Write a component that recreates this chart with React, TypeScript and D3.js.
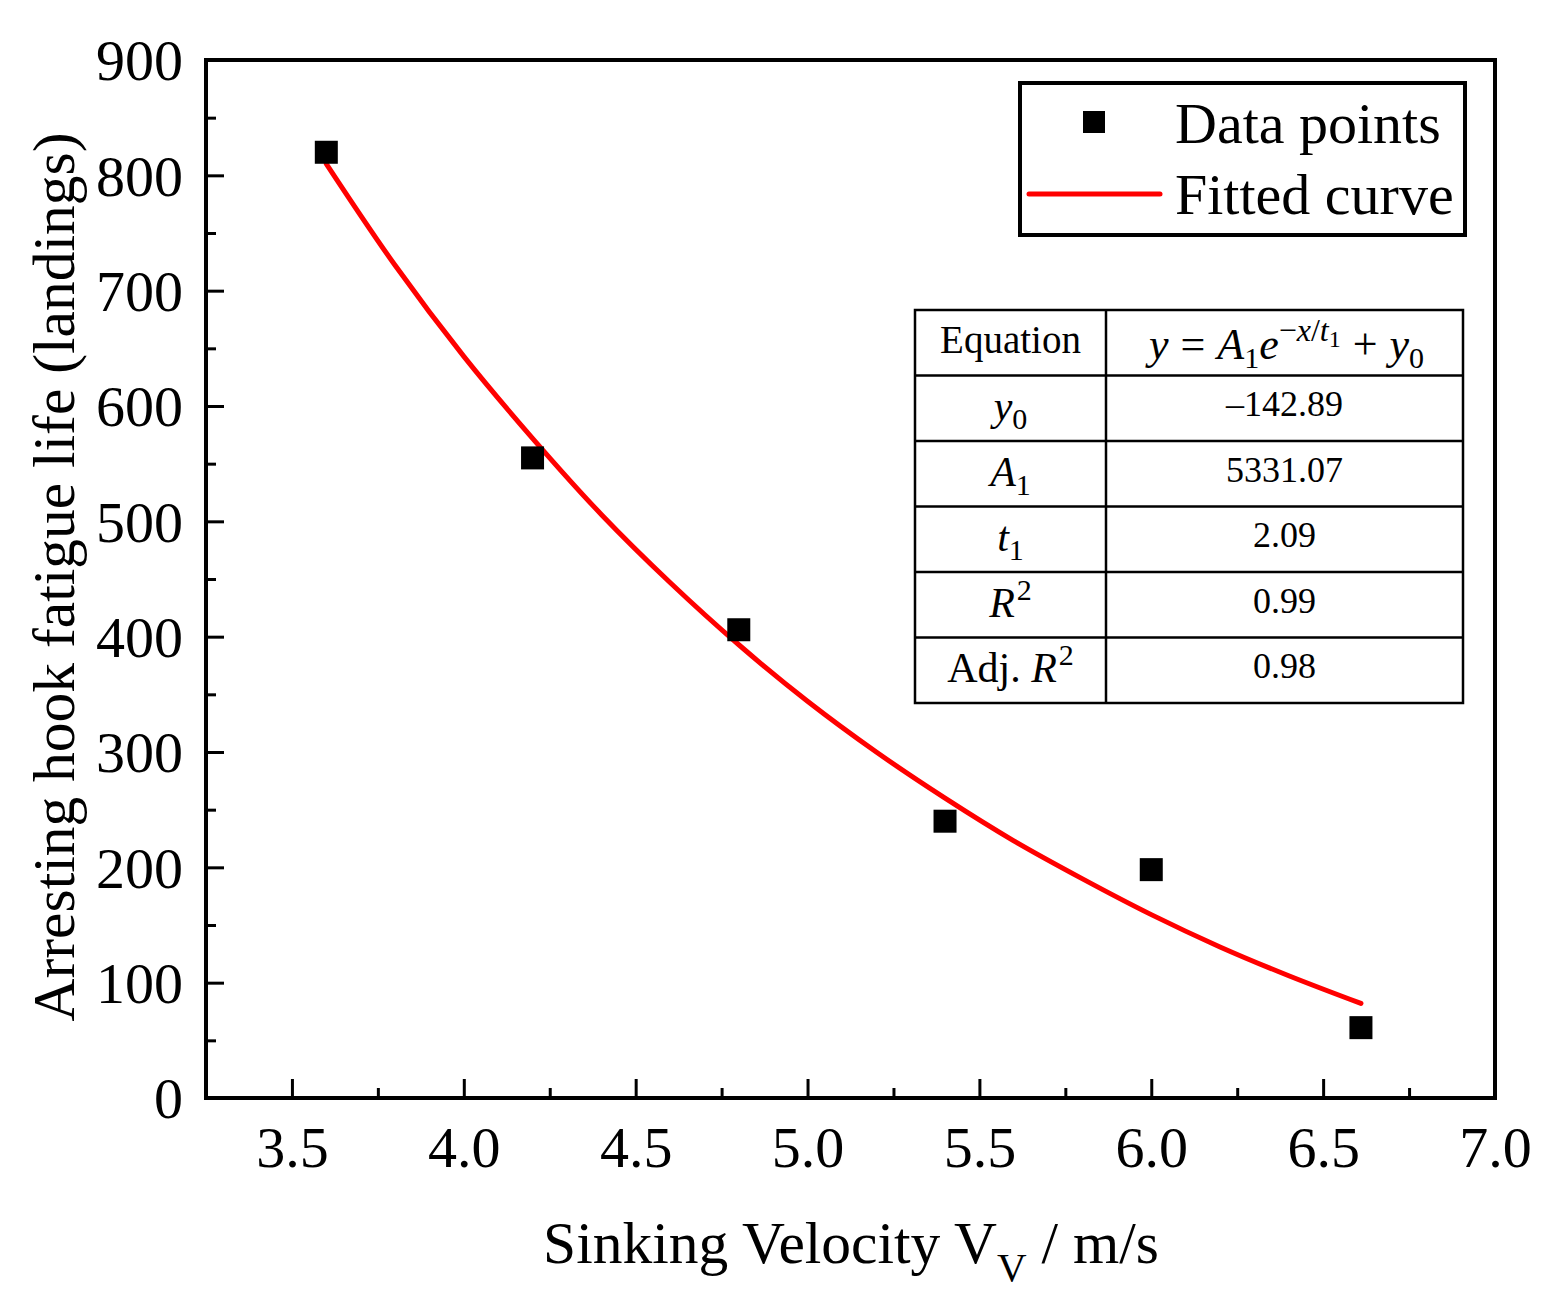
import { useEffect, useRef } from 'react';
import * as d3 from 'd3';

// measured points
const velocity = [3.6, 4.2, 4.8, 5.4, 6.0, 6.61];
const fatigueLife = [820, 555, 406, 240, 198, 61];

// fitted curve
const fitX = [3.6, 3.8, 4.0, 4.2, 4.4, 4.6, 4.8, 5.0, 5.2, 5.4, 5.6, 5.8, 6.0, 6.2, 6.4, 6.61];
const fitY = [810, 722, 643, 572, 506, 447, 393, 344, 300, 260, 223, 190, 159, 131, 106, 82];

const xTicks = [3.5, 4.0, 4.5, 5.0, 5.5, 6.0, 6.5, 7.0];
const xMinor = [3.75, 4.25, 4.75, 5.25, 5.75, 6.25, 6.75];
const yTicks = [0, 100, 200, 300, 400, 500, 600, 700, 800, 900];
const yMinor = [50, 150, 250, 350, 450, 550, 650, 750, 850];

const paramValues = ['–142.89', '5331.07', '2.09', '0.99', '0.98'];

const W = 1560;
const H = 1310;
const margin = { left: 206, right: 65, top: 60, bottom: 212 };
const FONT = '"Liberation Serif", "Times New Roman", serif';

export default function App() {
  const xAxisRef = useRef<SVGGElement>(null);
  const yAxisRef = useRef<SVGGElement>(null);

  const x = d3.scaleLinear().domain([3.25, 7.0]).range([margin.left, W - margin.right]);
  const y = d3.scaleLinear().domain([0, 900]).range([H - margin.bottom, margin.top]);

  useEffect(() => {
    const gx = d3.select(xAxisRef.current!);
    gx.selectAll('*').remove();
    gx.append('g')
      .call(d3.axisBottom(x).tickValues(xMinor).tickSize(-10).tickFormat(() => ''))
      .call(s => s.select('.domain').remove())
      .call(s => s.selectAll('line').attr('stroke', '#000').attr('stroke-width', 3));
    gx.append('g')
      .call(d3.axisBottom(x).tickValues(xTicks).tickSize(-19).tickFormat(d3.format('.1f')))
      .call(s => s.select('.domain').remove())
      .call(s => s.selectAll('line').attr('stroke', '#000').attr('stroke-width', 3))
      .call(s => s.selectAll('text').attr('y', 69).attr('dy', 0)
        .attr('fill', '#000').attr('font-size', 58).attr('font-family', FONT));

    const gy = d3.select(yAxisRef.current!);
    gy.selectAll('*').remove();
    gy.append('g')
      .call(d3.axisLeft(y).tickValues(yMinor).tickSize(-10).tickFormat(() => ''))
      .call(s => s.select('.domain').remove())
      .call(s => s.selectAll('line').attr('stroke', '#000').attr('stroke-width', 3));
    gy.append('g')
      .call(d3.axisLeft(y).tickValues(yTicks).tickSize(-18).tickFormat(d3.format('d')))
      .call(s => s.select('.domain').remove())
      .call(s => s.selectAll('line').attr('stroke', '#000').attr('stroke-width', 3))
      .call(s => s.selectAll('text').attr('x', -23).attr('dy', '0.34em')
        .attr('fill', '#000').attr('font-size', 58).attr('font-family', FONT));
  }, []);

  const fitLine = d3.line<number>()
    .x((_, i) => x(fitX[i]))
    .y(d => y(d))
    .curve(d3.curveCatmullRom);

  const marker = 23;

  // table geometry
  const tL = 915, tM = 1106, tR = 1463, tTop = 310, rowH = 65.5;
  const rows = 6;
  const cL = (tL + tM) / 2;
  const cR = (tM + tR) / 2;
  const rowBase = (i: number) => tTop + rowH * i + rowH / 2 + 12;
  const mathFont = { fontFamily: FONT, fontStyle: 'italic' as const };

  const leftLabels = [
    <>
      <tspan {...mathFont}>y</tspan>
      <tspan dy={9} fontSize={30}>0</tspan>
    </>,
    <>
      <tspan {...mathFont}>A</tspan>
      <tspan dy={9} fontSize={30}>1</tspan>
    </>,
    <>
      <tspan {...mathFont}>t</tspan>
      <tspan dy={9} fontSize={30}>1</tspan>
    </>,
    <>
      <tspan {...mathFont}>R</tspan>
      <tspan dx={2} dy={-17} fontSize={30}>2</tspan>
    </>,
    <>
      <tspan>Adj. </tspan>
      <tspan {...mathFont}>R</tspan>
      <tspan dx={2} dy={-17} fontSize={30}>2</tspan>
    </>,
  ];

  return (
    <div style={{ position: 'absolute', left: 0, top: 0 }}>
      <svg width={W} height={H} style={{ display: 'block', background: '#fff' }} fontFamily={FONT}>
        <g ref={xAxisRef} transform={`translate(0,${H - margin.bottom})`} />
        <g ref={yAxisRef} transform={`translate(${margin.left},0)`} />

        {/* fitted curve */}
        <path d={fitLine(fitY) ?? ''} fill="none" stroke="#ff0000" strokeWidth={5} strokeLinecap="round" />

        {/* data points */}
        {velocity.map((v, i) => (
          <rect key={i} x={x(v) - marker / 2} y={y(fatigueLife[i]) - marker / 2}
            width={marker} height={marker} fill="#000" />
        ))}

        {/* frame */}
        <rect x={margin.left} y={margin.top} width={W - margin.left - margin.right}
          height={H - margin.top - margin.bottom} fill="none" stroke="#000" strokeWidth={4} />

        {/* legend */}
        <rect x={1020} y={83} width={445} height={152} fill="#fff" stroke="#000" strokeWidth={4} />
        <rect x={1094 - 11} y={122 - 11} width={22} height={22} fill="#000" />
        <line x1={1029} x2={1160} y1={194} y2={194} stroke="#ff0000" strokeWidth={5} strokeLinecap="round" />
        <text x={1175} y={143} fontSize={58}>Data points</text>
        <text x={1175} y={214} fontSize={58}>Fitted curve</text>

        {/* parameter table */}
        <rect x={tL} y={tTop} width={tR - tL} height={rowH * rows} fill="#fff" stroke="#000" strokeWidth={2.5} />
        <line x1={tM} x2={tM} y1={tTop} y2={tTop + rowH * rows} stroke="#000" strokeWidth={2.5} />
        {d3.range(1, rows).map(i => (
          <line key={i} x1={tL} x2={tR} y1={tTop + rowH * i} y2={tTop + rowH * i} stroke="#000" strokeWidth={2.5} />
        ))}
        <text x={cL} y={rowBase(0) - 2} fontSize={39} textAnchor="middle">Equation</text>
        <text x={cR + 2} y={rowBase(0) + 4} fontSize={44} textAnchor="middle">
          <tspan {...mathFont}>y</tspan>
          <tspan dx={12}>=</tspan>
          <tspan dx={12} {...mathFont}>A</tspan>
          <tspan dy={9} fontSize={30}>1</tspan>
          <tspan dy={-9} {...mathFont}>e</tspan>
          <tspan dy={-18} fontSize={32}>−</tspan>
          <tspan fontSize={32} {...mathFont}>x</tspan>
          <tspan fontSize={32}>/</tspan>
          <tspan fontSize={32} {...mathFont}>t</tspan>
          <tspan dy={6} fontSize={24}>1</tspan>
          <tspan dx={12} dy={12}>+</tspan>
          <tspan dx={12} {...mathFont}>y</tspan>
          <tspan dy={9} fontSize={30}>0</tspan>
        </text>
        {paramValues.map((v, i) => (
          <text key={i} x={cR} y={rowBase(i + 1) - 4} fontSize={36} textAnchor="middle">{v}</text>
        ))}
        {leftLabels.map((lab, i) => (
          <text key={i} x={cL} y={rowBase(i + 1)} fontSize={42} textAnchor="middle">{lab}</text>
        ))}

        {/* axis titles */}
        <text x={851} y={1263} fontSize={59.5} textAnchor="middle">
          <tspan>Sinking Velocity V</tspan>
          <tspan dy={18} fontSize={41}>V</tspan>
          <tspan dy={-18}> / m/s</tspan>
        </text>
        <text transform={`translate(74,${(margin.top + H - margin.bottom) / 2 - 2}) rotate(-90)`}
          x={0} y={0} fontSize={59.5} textAnchor="middle">
          Arresting hook fatigue life (landings)
        </text>
      </svg>
    </div>
  );
}
